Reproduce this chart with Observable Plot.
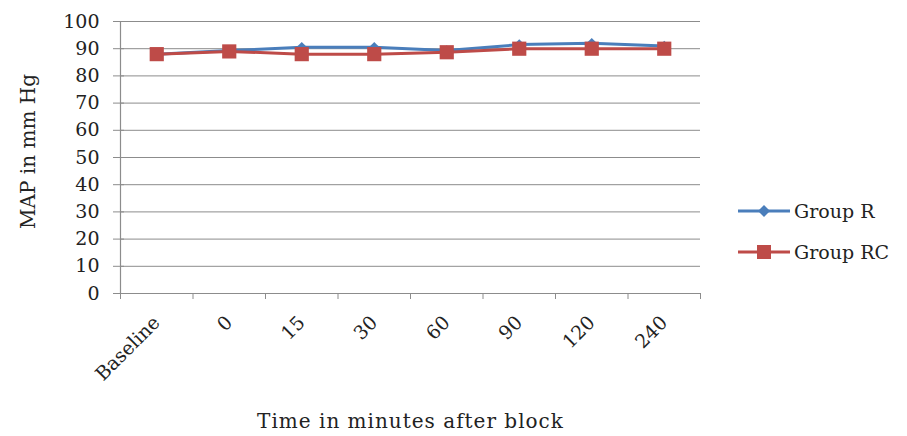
<!DOCTYPE html>
<html><head><meta charset="utf-8">
<script src="https://cdn.jsdelivr.net/npm/d3@7"></script>
<script src="https://cdn.jsdelivr.net/npm/@observablehq/plot@0.6"></script>
<style>
body{margin:0;background:#fff;}
#wrap{position:relative;width:907px;height:436px;font-family:"DejaVu Serif",serif;}
#legend{position:absolute;left:736px;top:190px;font-size:19px;color:#222;}
.li{display:flex;align-items:center;height:41px;}
.li svg{margin-right:2px;}
.xt text{letter-spacing:1px;}
</style></head><body>
<div id="wrap"><div id="chart"></div>
<div id="legend">
 <div class="li"><svg width="56" height="20"><line x1="2" y1="10" x2="54" y2="10" stroke="#4a7ebb" stroke-width="3"/><path d="M28 4 L34 10 L28 16 L22 10 Z" fill="#4a7ebb"/></svg>Group R</div>
 <div class="li"><svg width="56" height="20"><line x1="2" y1="10" x2="54" y2="10" stroke="#be4b48" stroke-width="3"/><rect x="21" y="3" width="14" height="14" fill="#be4b48"/></svg>Group RC</div>
</div></div>
<script>
const categories = ["Baseline","0","15","30","60","90","120","240"];
const groupR  = [88, 89.3, 90.5, 90.5, 89.3, 91.5, 92, 91];
const groupRC = [88, 89, 88, 88, 88.7, 90, 90, 90];
const yTicks = [0,10,20,30,40,50,60,70,80,90,100];

const rowsR = categories.map((c,i)=>({x:i+0.5, y:groupR[i]}));
const rowsRC = categories.map((c,i)=>({x:i+0.5, y:groupRC[i]}));

const chart = Plot.plot({
  width:907, height:436,
  marginLeft:120, marginRight:207, marginTop:21, marginBottom:143,
  style:{fontFamily:"DejaVu Serif, serif", fontSize:"19px", color:"#222", background:"#fff"},
  x:{type:"linear", domain:[0,categories.length], axis:null},
  y:{type:"linear", domain:[0,100], axis:null},
  marks:[
    Plot.gridY(yTicks.filter(d=>d>0), {stroke:"#8c8c8c", strokeOpacity:1, strokeWidth:1}),
    Plot.ruleY([0], {stroke:"#8c8c8c", strokeWidth:1.2}),
    Plot.ruleX([0], {stroke:"#8c8c8c", strokeWidth:1.2}),
    Plot.axisY({ticks:yTicks, tickSize:7, stroke:"#8c8c8c", tickPadding:14, label:null}),
    Plot.axisY({ticks:yTicks, tickSize:4, dx:4, stroke:"#8c8c8c", tickFormat:()=>"", label:null}),
    Plot.axisX({ticks:d3.range(0,categories.length+1), tickFormat:()=>"", tickSize:6, stroke:"#8c8c8c", label:null}),
    Plot.axisX({ticks:categories.map((c,i)=>i+0.5), tickFormat:d=>categories[Math.round(d-0.5)], tickSize:0, tickRotate:-45, tickPadding:26, dx:0, label:null}),
    Plot.line(rowsR, {x:"x", y:"y", stroke:"#4a7ebb", strokeWidth:3}),
    Plot.dot(rowsR, {x:"x", y:"y", symbol:"diamond2", r:4.8, fill:"#4a7ebb", stroke:null}),
    Plot.line(rowsRC, {x:"x", y:"y", stroke:"#be4b48", strokeWidth:3}),
    Plot.dot(rowsRC, {x:"x", y:"y", symbol:"square", r:8, fill:"#be4b48", stroke:null}),
    Plot.text(["Time in minutes after block"], {frameAnchor:"bottom", dy:134, fontSize:20, fill:"#222", className:"xt"}),
    Plot.text(["MAP in mm Hg"], {frameAnchor:"left", textAnchor:"middle", dx:-92, dy:-6, rotate:-90, fontSize:20, fill:"#222"})
  ]
});
document.getElementById("chart").appendChild(chart);
</script>
</body></html>
